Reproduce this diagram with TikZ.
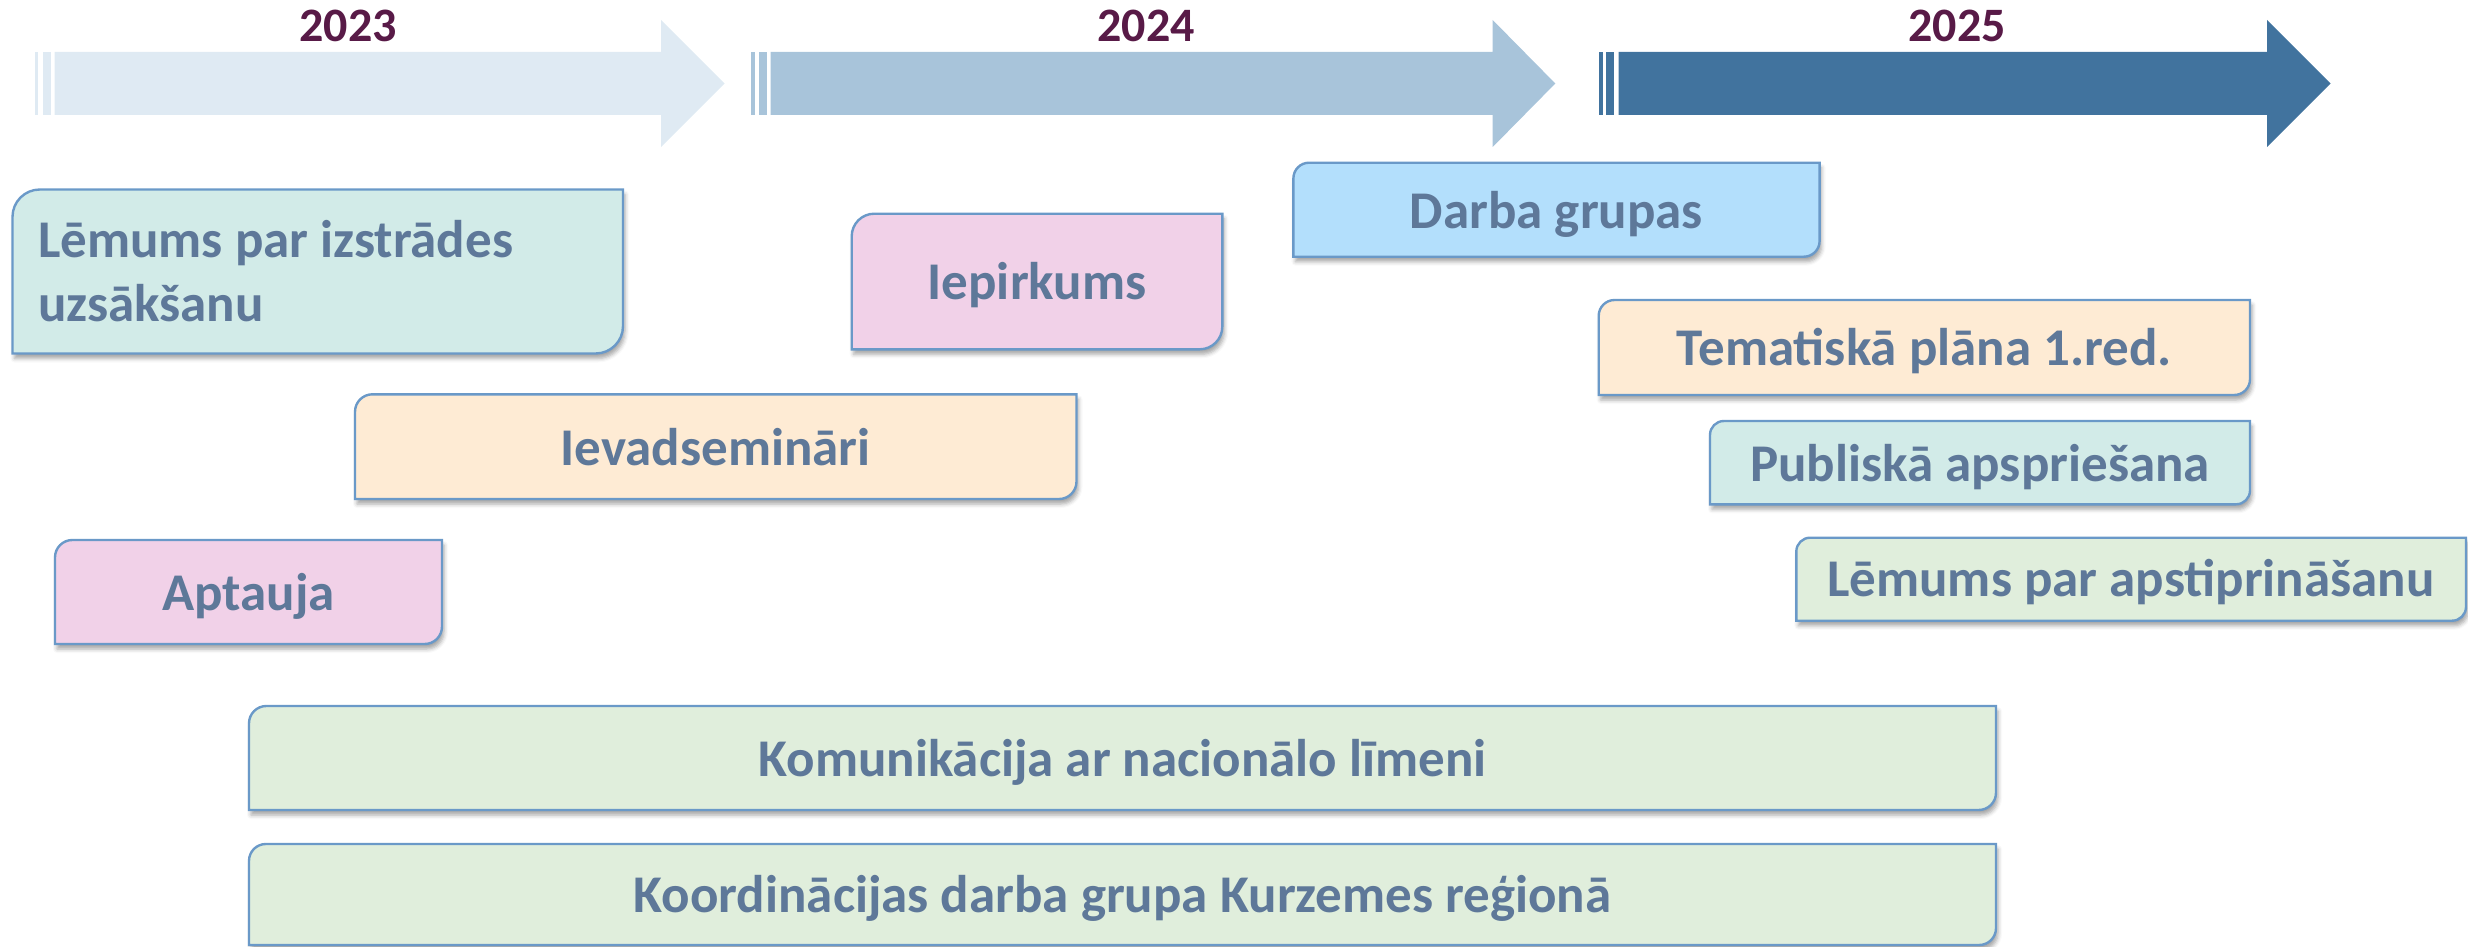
\documentclass[tikz,border=0pt]{standalone}
\usepackage{fontspec}
\setmainfont{Carlito}
\usetikzlibrary{shadows.blur}
\definecolor{arrA}{HTML}{DFEAF3}
\definecolor{arrB}{HTML}{A8C4DA}
\definecolor{arrC}{HTML}{41739E}
\definecolor{yearc}{HTML}{581A47}
\definecolor{txtc}{HTML}{5E7899}
\definecolor{edgec}{HTML}{6A99C8}
\definecolor{fTeal}{HTML}{D2EBE8}
\definecolor{fPink}{HTML}{F1D1E8}
\definecolor{fPeach}{HTML}{FEEBD4}
\definecolor{fBlue}{HTML}{B3DFFC}
\definecolor{fGreen}{HTML}{E0EEDC}
\tikzset{
  boxshape/.style={draw=edgec, line width=2.4pt,
    blur shadow={shadow xshift=2pt, shadow yshift=-5pt, shadow blur radius=4pt, shadow opacity=35}},
  lbl/.style={font=\fontsize{53}{64.7}\selectfont\bfseries, text=txtc, inner sep=0pt, anchor=base},
  year/.style={font=\fontsize{48}{56}\selectfont\bfseries, text=yearc, inner sep=0pt, anchor=base},
}
\newcommand\tlbox[5]{%
  \pgfmathsetmacro\rr{(#4-#2)/6}
  \path[boxshape, fill=#5] (#1,#4) -- (#1,#2+\rr) arc[start angle=180,end angle=90,radius=\rr pt]
    -- (#3,#2) -- (#3,#4-\rr) arc[start angle=0,end angle=-90,radius=\rr pt] -- cycle;
}
\newcommand\tlarrow[8]{%
  \fill[#1] (#2,52) rectangle (#3,115);
  \fill[#1] (#4,52) rectangle (#5,115);
  \fill[#1] (#6,52) -- (#7,52) -- (#7,20) -- (#8,83.5) -- (#7,147) -- (#7,115) -- (#6,115) -- cycle;
}
\begin{document}
\begin{tikzpicture}[x=1pt,y=-1pt]
\useasboundingbox (0,0) rectangle (2468,947);
% timeline arrows
\tlarrow{arrA}{35.2}{38.3}{42.9}{50.5}{54.6}{661.2}{724.5}
\tlarrow{arrB}{750.5}{755}{758.5}{767}{770.6}{1492.7}{1555.3}
\tlarrow{arrC}{1598.6}{1602.7}{1606.2}{1614.4}{1618.5}{2267.2}{2330.5}
\node (y23) [year] at (348,41.7) {2023};
\node (y24) [year] at (1146,41.7) {2024};
\node (y25) [year] at (1957,41.7) {2025};
% boxes
\tlbox{12.5}{189.5}{623}{353.5}{fTeal}
\node (b1) [lbl, anchor=base west, align=left] at (38,321.7) {Lēmums par izstrādes\\uzsākšanu};
\tlbox{851.7}{213.7}{1222.3}{349.3}{fPink}
\node (b2) [lbl] at (1037,299.5) {Iepirkums};
\tlbox{1293.4}{162.7}{1819.6}{256.7}{fBlue}
\node (b3) [lbl] at (1556.5,228) {Darba grupas};
\tlbox{1598.7}{300}{2250}{395}{fPeach}
\node (b4) [lbl] at (1924.3,365) {Tematiskā plāna 1.red.};
\tlbox{1710}{421}{2250}{504.3}{fTeal}
\node (b5) [lbl] at (1980,481) {Publiskā apspriešana};
\tlbox{1796.3}{537.7}{2466}{620.7}{fGreen}
\node (b6) [lbl] at (2131,596.7) {Lēmums par apstiprināšanu};
\tlbox{355}{394.3}{1076.5}{499}{fPeach}
\node (b7) [lbl] at (715.7,465) {Ievadsemināri};
\tlbox{55}{540}{442}{644}{fPink}
\node (b8) [lbl] at (248.5,610) {Aptauja};
\tlbox{249}{706}{1996}{810}{fGreen}
\node (b9) [lbl] at (1122.5,776) {Komunikācija ar nacionālo līmeni};
\tlbox{249}{844}{1996}{945}{fGreen}
\node (b10) [lbl] at (1122.5,912) {Koordinācijas darba grupa Kurzemes reģionā};
\end{tikzpicture}
\end{document}
